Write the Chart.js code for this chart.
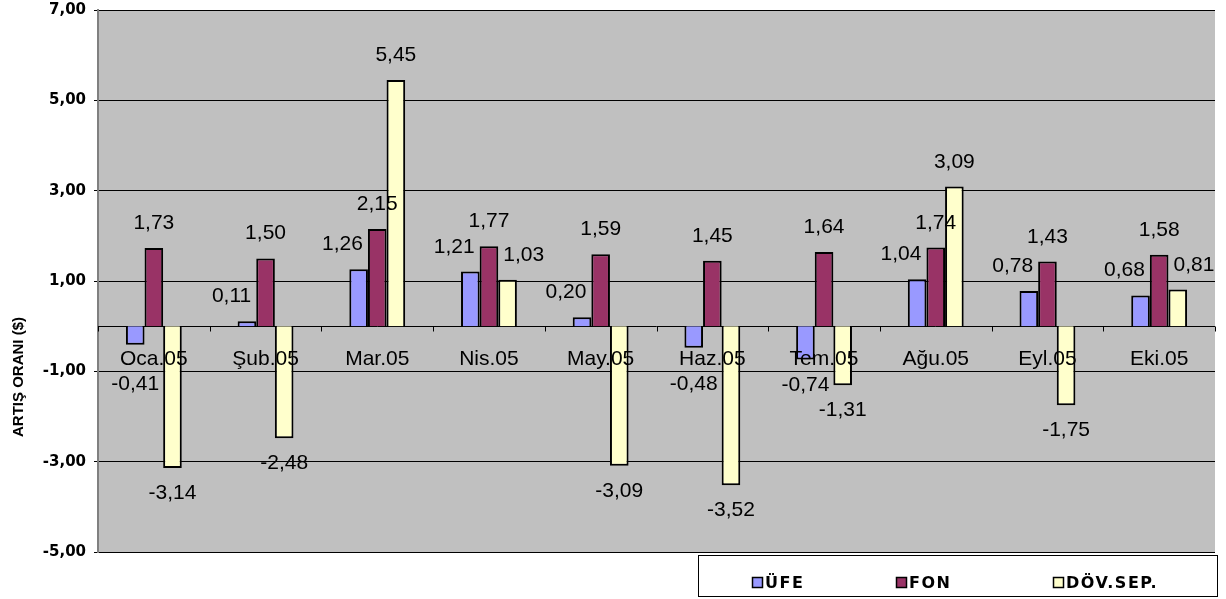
<!DOCTYPE html>
<html>
<head>
<meta charset="utf-8">
<script src="https://cdn.jsdelivr.net/npm/chart.js@4"></script>
<style>
  html, body { margin: 0; padding: 0; background: #fff; }
  #wrap { width: 1226px; height: 599px; }
</style>
</head>
<body>
<div id="wrap"><canvas id="c" width="1226" height="599"></canvas></div>
<script>
// Monthly growth rates, 2005
const months = ['Oca.05', 'Şub.05', 'Mar.05', 'Nis.05', 'May.05', 'Haz.05', 'Tem.05', 'Ağu.05', 'Eyl.05', 'Eki.05'];
const ufe    = [-0.41, 0.11, 1.26, 1.21, 0.20, -0.48, -0.74, 1.04, 0.78, 0.68];
const fon    = [1.73, 1.50, 2.15, 1.77, 1.59, 1.45, 1.64, 1.74, 1.43, 1.58];
const dovSep = [-3.14, -2.48, 5.45, 1.03, -3.09, -3.52, -1.31, 3.09, -1.75, 0.81];
const seriesNames = ['ÜFE', 'FON', 'DÖV.SEP.'];
const yTicks = [-5, -3, -1, 1, 3, 5, 7];
const yTitle = 'ARTIŞ ORANI ($)';

const colors = ['#9999FF', '#993366', '#FFFFCC'];
const fmt = v => v.toFixed(2).replace('.', ',');
const LABEL_FONT = '21px "Liberation Sans", Arial, sans-serif';

// grey plot background
const plotBackground = {
  id: 'plotBackground',
  beforeDraw(chart) {
    const { ctx, chartArea: a } = chart;
    ctx.save();
    ctx.fillStyle = '#fff';
    ctx.fillRect(0, 0, chart.width, chart.height);
    ctx.fillStyle = '#C0C0C0';
    ctx.fillRect(a.left, a.top, a.right - a.left, a.bottom - a.top);
    ctx.restore();
  }
};

// category axis drawn along the zero line
const zeroAxis = {
  id: 'zeroAxis',
  beforeDatasetsDraw(chart) {
    const { ctx, chartArea: a, scales } = chart;
    const y0 = Math.round(scales.y.getPixelForValue(0)) + 0.5;
    const half = (scales.x.getPixelForValue(1) - scales.x.getPixelForValue(0)) / 2;
    ctx.save();
    ctx.strokeStyle = '#000';
    ctx.lineWidth = 1;
    ctx.beginPath();
    ctx.moveTo(a.left, y0);
    ctx.lineTo(a.right, y0);
    for (let i = 0; i <= months.length; i++) {
      const x = Math.round(scales.x.getPixelForValue(i) - half) + 0.5;
      ctx.moveTo(x, y0);
      ctx.lineTo(x, y0 + 5);
    }
    ctx.stroke();
    ctx.restore();
  },
  afterDatasetsDraw(chart) {
    const { ctx, scales } = chart;
    const zero = scales.y.getPixelForValue(0);
    const catBase = zero + 39;
    ctx.save();
    ctx.font = LABEL_FONT;
    ctx.fillStyle = '#000';
    ctx.textAlign = 'center';
    ctx.textBaseline = 'alphabetic';
    months.forEach((m, i) => ctx.fillText(m, scales.x.getPixelForValue(i), catBase));

    // value labels at the outer end of every bar
    const capH = 15, gap = 5;
    const sets = chart.data.datasets;
    sets.forEach((ds, d) => {
      const meta = chart.getDatasetMeta(d);
      ds.data.forEach((v, i) => {
        const bar = meta.data[i];
        const txt = fmt(v);
        const w = ctx.measureText(txt).width;
        let cx = bar.x;
        let base = v >= 0 ? bar.y - 19 : bar.y + 31;
        if (v < 0 && base - capH < catBase + 6) base = catBase + 25;
        const top = base - capH;
        if (d !== 1) {
          // outer series labels step aside from a neighbouring bar they would cover
          sets.forEach((_, o) => {
            if (o === d) return;
            const nb = chart.getDatasetMeta(o).data[i];
            const nTop = Math.min(nb.y, nb.base), nBot = Math.max(nb.y, nb.base);
            const nL = nb.x - nb.width / 2, nR = nb.x + nb.width / 2;
            const l = cx - w / 2, r = cx + w / 2;
            if (top < nBot && base > nTop && l < nR && r > nL) {
              cx = d === 0 ? nL - gap - w / 2 : nR + gap + w / 2;
            }
          });
        }
        ctx.fillText(txt, cx, base);
      });
    });
    ctx.restore();
  }
};

// rotated axis title and boxed legend
const decorations = {
  id: 'decorations',
  afterDraw(chart) {
    const { ctx } = chart;
    ctx.save();
    ctx.translate(19, 377);
    ctx.rotate(-Math.PI / 2);
    ctx.font = 'bold 15px "Liberation Sans", Arial, sans-serif';
    ctx.fillStyle = '#000';
    ctx.textAlign = 'center';
    ctx.textBaseline = 'middle';
    ctx.fillText(yTitle, 0, 0);
    ctx.restore();

    ctx.save();
    ctx.fillStyle = '#fff';
    ctx.fillRect(698, 555, 520, 42);
    ctx.strokeStyle = '#000';
    ctx.lineWidth = 1;
    ctx.strokeRect(698.5, 555.5, 519, 41);
    const itemX = [752, 896, 1053];
    ctx.font = 'bold 16px "DejaVu Sans", Verdana, sans-serif';
    ctx.textBaseline = 'alphabetic';
    ctx.textAlign = 'left';
    try { ctx.letterSpacing = '1.5px'; } catch (e) {}
    chart.data.datasets.forEach((ds, d) => {
      const x = itemX[d];
      ctx.fillStyle = ds.backgroundColor;
      ctx.fillRect(x + 0.5, 577.5, 10, 10);
      ctx.strokeStyle = '#000';
      ctx.lineWidth = 1.5;
      ctx.strokeRect(x + 0.5, 577.5, 10, 10);
      ctx.fillStyle = '#000';
      ctx.fillText(ds.label, x + 13, 588);
    });
    ctx.restore();
  }
};

new Chart(document.getElementById('c'), {
  type: 'bar',
  data: {
    labels: months,
    datasets: [ufe, fon, dovSep].map((vals, d) => ({
      label: seriesNames[d],
      data: vals,
      backgroundColor: colors[d],
      borderColor: '#000',
      borderWidth: 2,
      categoryPercentage: 0.5,
      barPercentage: 1.0
    }))
  },
  options: {
    responsive: false,
    animation: false,
    events: [],
    layout: { padding: { top: 10, bottom: 47, right: 11, left: 0 } },
    plugins: { legend: { display: false }, tooltip: { enabled: false } },
    scales: {
      x: { display: false, offset: true },
      y: {
        min: -5,
        max: 7,
        afterFit: s => { s.width = 98; s.paddingTop = 0; s.paddingBottom = 0; },
        afterBuildTicks: s => { s.ticks = yTicks.map(v => ({ value: v })); },
        grid: { color: '#000', lineWidth: 1, tickLength: 4, drawTicks: true },
        border: { color: '#808080', width: 2 },
        ticks: {
          font: { family: '"DejaVu Sans", Verdana, sans-serif', weight: 'bold', size: 15 },
          color: '#000',
          padding: 8,
          callback: v => fmt(v)
        }
      }
    }
  },
  plugins: [plotBackground, zeroAxis, decorations]
});
</script>
</body>
</html>
